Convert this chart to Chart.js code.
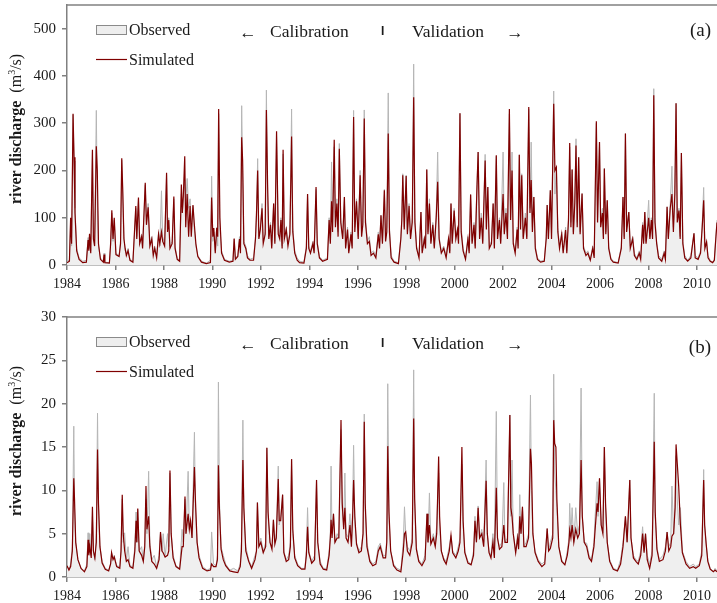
<!DOCTYPE html>
<html>
<head>
<meta charset="utf-8">
<script src="https://cdn.jsdelivr.net/npm/chart.js@4.4.1/dist/chart.umd.min.js"></script>
<style>
  body { margin: 0; background: #fff; }
  #wrap { position: relative; width: 717px; height: 603px; }
  canvas { position: absolute; left: 0; }
</style>
</head>
<body>
<div id="wrap">
  <canvas id="panelA" width="717" height="300" style="top:0"></canvas>
  <canvas id="panelB" width="717" height="303" style="top:300px"></canvas>
</div>
<script>
// decimal years, observed and simulated discharge (m3/s), station (a)
const yearsA = [
  1984.00, 1984.10, 1984.15, 1984.19, 1984.25, 1984.29, 1984.33, 1984.40, 1984.50, 1984.65, 1984.80, 1984.87, 1984.90, 1984.93, 1984.98,
  1985.05, 1985.09, 1985.14, 1985.21, 1985.25, 1985.30, 1985.38, 1985.50, 1985.53, 1985.56, 1985.75, 1985.80, 1985.85, 1985.90, 1985.95,
  1986.02, 1986.15, 1986.21, 1986.26, 1986.30, 1986.35, 1986.40, 1986.45, 1986.52, 1986.60, 1986.72, 1986.80, 1986.84, 1986.88, 1986.95,
  1987.00, 1987.08, 1987.12, 1987.23, 1987.28, 1987.35, 1987.42, 1987.50, 1987.56, 1987.62, 1987.70, 1987.78, 1987.83, 1987.90, 1987.95,
  1988.03, 1988.11, 1988.15, 1988.20, 1988.25, 1988.34, 1988.41, 1988.46, 1988.55, 1988.65, 1988.72, 1988.76, 1988.80, 1988.86, 1988.90, 1988.96,
  1989.02, 1989.08, 1989.13, 1989.20, 1989.25, 1989.32, 1989.40, 1989.55, 1989.75, 1989.92, 1989.97,
  1990.02, 1990.06, 1990.12, 1990.18, 1990.22, 1990.26, 1990.31, 1990.38, 1990.50, 1990.70, 1990.85, 1990.90, 1990.95,
  1991.05, 1991.12, 1991.16, 1991.21, 1991.25, 1991.30, 1991.38, 1991.45, 1991.55, 1991.70, 1991.78, 1991.82, 1991.87, 1991.92, 1991.98,
  1992.05, 1992.10, 1992.18, 1992.23, 1992.28, 1992.33, 1992.40, 1992.45, 1992.53, 1992.58, 1992.65, 1992.72, 1992.78, 1992.83, 1992.88, 1992.92, 1992.97,
  1993.05, 1993.12, 1993.20, 1993.27, 1993.32, 1993.40, 1993.50, 1993.60, 1993.78, 1993.88, 1993.93, 1993.98,
  1994.05, 1994.15, 1994.20, 1994.28, 1994.33, 1994.42, 1994.55, 1994.75, 1994.82, 1994.87, 1994.92, 1994.96,
  1995.03, 1995.08, 1995.14, 1995.19, 1995.24, 1995.30, 1995.38, 1995.45, 1995.50, 1995.58, 1995.63, 1995.72, 1995.77, 1995.83, 1995.88, 1995.95,
  1996.02, 1996.10, 1996.16, 1996.21, 1996.27, 1996.32, 1996.40, 1996.48, 1996.55, 1996.65, 1996.75, 1996.85, 1996.90, 1996.96,
  1997.02, 1997.10, 1997.15, 1997.20, 1997.26, 1997.31, 1997.38, 1997.50, 1997.68, 1997.78, 1997.82, 1997.86, 1997.92,
  1998.00, 1998.05, 1998.12, 1998.18, 1998.25, 1998.31, 1998.36, 1998.43, 1998.53, 1998.61, 1998.66, 1998.75, 1998.80, 1998.85, 1998.90, 1998.96,
  1999.02, 1999.10, 1999.16, 1999.24, 1999.30, 1999.36, 1999.45, 1999.55, 1999.65, 1999.75, 1999.80, 1999.85, 1999.90, 1999.98,
  2000.05, 2000.12, 2000.16, 2000.22, 2000.27, 2000.35, 2000.45, 2000.55, 2000.60, 2000.66, 2000.72, 2000.80, 2000.85, 2000.92, 2000.97,
  2001.03, 2001.10, 2001.16, 2001.26, 2001.31, 2001.37, 2001.43, 2001.52, 2001.59, 2001.64, 2001.72, 2001.77, 2001.85, 2001.90,
  2002.00, 2002.05, 2002.12, 2002.18, 2002.26, 2002.31, 2002.37, 2002.42, 2002.50, 2002.58, 2002.62, 2002.67, 2002.72, 2002.77, 2002.83, 2002.92, 2002.98,
  2003.06, 2003.11, 2003.16, 2003.21, 2003.27, 2003.33, 2003.42, 2003.55, 2003.70, 2003.78, 2003.82, 2003.87, 2003.95,
  2004.00, 2004.09, 2004.14, 2004.20, 2004.26, 2004.33, 2004.42, 2004.48, 2004.58, 2004.63, 2004.70, 2004.75, 2004.80, 2004.85, 2004.90, 2004.96,
  2005.01, 2005.06, 2005.12, 2005.18, 2005.26, 2005.32, 2005.42, 2005.50, 2005.60, 2005.70, 2005.76, 2005.85, 2005.90, 2005.98,
  2006.03, 2006.10, 2006.14, 2006.18, 2006.24, 2006.30, 2006.36, 2006.45, 2006.55, 2006.75, 2006.88, 2006.95,
  2007.00, 2007.05, 2007.10, 2007.19, 2007.25, 2007.35, 2007.42, 2007.52, 2007.62, 2007.68, 2007.76, 2007.80, 2007.85, 2007.90,
  2008.01, 2008.06, 2008.12, 2008.17, 2008.22, 2008.27, 2008.34, 2008.42, 2008.55, 2008.65, 2008.70, 2008.77, 2008.82, 2008.90, 2008.97,
  2009.03, 2009.09, 2009.14, 2009.19, 2009.26, 2009.31, 2009.36, 2009.42, 2009.50, 2009.62, 2009.75, 2009.88, 2009.93,
  2010.05, 2010.15, 2010.22, 2010.28, 2010.33, 2010.40, 2010.46, 2010.55, 2010.65, 2010.72, 2010.78, 2010.83
];
const observedA = [
  8, 10, 95, 40, 318, 220, 120, 35, 15, 8, 10, 58, 35, 62, 30,
  240, 60, 45, 327, 140, 40, 15, 8, 25, 6, 5, 40, 110, 50, 95,
  25, 20, 50, 222, 150, 60, 30, 25, 35, 12, 8, 80, 120, 60, 140,
  50, 65, 40, 170, 90, 130, 45, 60, 25, 40, 20, 70, 40, 157, 60,
  45, 190, 80, 100, 40, 50, 140, 40, 15, 10, 150, 110, 140, 180, 130, 183,
  120, 140, 90, 125, 80, 40, 20, 8, 4, 10, 188,
  50, 70, 30, 80, 40, 320, 80, 30, 12, 8, 10, 55, 15,
  20, 60, 30, 337, 200, 50, 40, 20, 12, 15, 60, 110, 225, 60, 80,
  130, 50, 70, 370, 150, 60, 90, 40, 130, 50, 272, 70, 60, 100, 40, 235, 60,
  80, 45, 70, 330, 80, 30, 15, 8, 6, 40, 150, 40,
  30, 50, 30, 160, 50, 18, 10, 15, 100, 50, 218, 80,
  250, 90, 140, 70, 257, 100, 60, 144, 40, 80, 30, 70, 40, 327, 80, 140,
  60, 200, 70, 90, 328, 100, 50, 60, 25, 30, 20, 70, 40, 105,
  50, 160, 60, 80, 364, 80, 20, 8, 5, 60, 100, 193, 80,
  190, 70, 130, 60, 100, 425, 100, 40, 20, 112, 30, 60, 40, 202, 70, 140,
  50, 90, 40, 110, 239, 60, 30, 40, 20, 60, 30, 130, 50, 120,
  60, 80, 50, 321, 80, 35, 15, 60, 30, 149, 50, 90, 40, 170, 239,
  60, 110, 50, 234, 80, 165, 40, 50, 130, 40, 230, 60, 100, 50,
  239, 70, 120, 60, 320, 100, 239, 50, 30, 80, 40, 233, 80, 193, 60, 110, 60,
  330, 120, 260, 80, 144, 40, 15, 8, 10, 60, 127, 60, 158,
  60, 368, 150, 207, 80, 40, 70, 30, 80, 30, 100, 250, 90, 202, 70, 140,
  267, 90, 228, 70, 151, 40, 25, 30, 12, 40, 20, 300, 100, 260,
  90, 120, 60, 204, 70, 137, 40, 15, 8, 5, 40, 144,
  60, 278, 80, 112, 40, 60, 25, 15, 30, 15, 90, 50, 112, 50,
  137, 60, 100, 60, 373, 100, 50, 20, 12, 30, 15, 123, 60, 130, 209,
  80, 160, 342, 100, 120, 60, 237, 50, 20, 10, 20, 67, 20,
  15, 30, 90, 164, 40, 49, 20, 10, 6, 12, 60, 95
];
const simulatedA = [
  5, 8, 100, 45, 320, 228, 110, 30, 12, 5, 6, 53, 30, 66, 25,
  244, 55, 40, 251, 200, 45, 12, 6, 22, 5, 4, 45, 116, 55, 100,
  22, 18, 45, 226, 160, 55, 35, 20, 30, 10, 6, 85, 125, 55, 143,
  45, 60, 35, 174, 85, 122, 40, 55, 20, 35, 15, 65, 45, 70, 50,
  40, 195, 70, 95, 35, 45, 145, 35, 12, 8, 170, 110, 145, 230, 80, 150,
  60, 125, 60, 127, 90, 45, 18, 6, 3, 5, 143,
  60, 78, 25, 78, 60, 330, 100, 25, 10, 6, 8, 56, 12,
  18, 55, 25, 270, 220, 45, 35, 15, 10, 10, 55, 105, 200, 55, 75,
  120, 45, 65, 328, 170, 55, 85, 35, 130, 45, 283, 65, 55, 95, 35, 244, 55,
  75, 40, 65, 272, 70, 25, 10, 5, 4, 35, 150, 35,
  25, 45, 25, 165, 45, 15, 8, 12, 95, 45, 135, 70,
  265, 80, 130, 60, 246, 90, 55, 144, 35, 75, 25, 65, 35, 313, 70, 135,
  55, 190, 60, 85, 310, 90, 45, 50, 20, 25, 15, 65, 35, 105,
  45, 158, 50, 70, 278, 70, 15, 6, 3, 55, 95, 190, 75,
  188, 65, 125, 55, 90, 355, 90, 35, 15, 112, 25, 55, 35, 202, 65, 130,
  45, 85, 35, 100, 176, 55, 25, 35, 15, 55, 25, 130, 45, 115,
  55, 75, 45, 321, 70, 30, 12, 55, 25, 149, 45, 85, 35, 160, 239,
  55, 100, 45, 221, 75, 165, 35, 45, 130, 35, 232, 55, 95, 45,
  150, 65, 110, 55, 330, 95, 200, 45, 25, 75, 35, 233, 75, 190, 55, 100, 55,
  334, 110, 180, 70, 144, 35, 12, 6, 8, 55, 127, 55, 158,
  55, 341, 200, 207, 70, 35, 65, 25, 74, 25, 95, 258, 80, 202, 65, 130,
  253, 80, 228, 65, 151, 35, 20, 25, 10, 35, 15, 304, 90, 260,
  80, 110, 55, 204, 65, 137, 35, 12, 6, 4, 35, 144,
  55, 278, 70, 112, 35, 55, 20, 12, 25, 12, 85, 45, 112, 45,
  100, 55, 95, 55, 359, 90, 45, 15, 8, 25, 12, 123, 55, 120, 150,
  70, 150, 342, 90, 115, 55, 237, 45, 15, 8, 15, 67, 15,
  12, 25, 80, 137, 35, 49, 15, 8, 5, 10, 55, 90
];

// station (b)
const yearsB = [
  1984.00, 1984.08, 1984.15, 1984.22, 1984.28, 1984.31, 1984.36, 1984.45, 1984.58, 1984.72, 1984.82, 1984.87, 1984.90, 1984.94,
  1985.00, 1985.05, 1985.09, 1985.15, 1985.21, 1985.26, 1985.30, 1985.36, 1985.45, 1985.58, 1985.72, 1985.80, 1985.84, 1985.90, 1985.95,
  1986.05, 1986.18, 1986.23, 1986.28, 1986.32, 1986.38, 1986.45, 1986.52, 1986.60, 1986.72, 1986.80, 1986.85, 1986.88, 1986.92, 1986.98,
  1987.08, 1987.15, 1987.21, 1987.26, 1987.30, 1987.37, 1987.42, 1987.50, 1987.60, 1987.70, 1987.80, 1987.86, 1987.92, 1987.97,
  1988.05, 1988.15, 1988.20, 1988.25, 1988.30, 1988.38, 1988.50, 1988.65, 1988.75, 1988.80, 1988.87, 1988.91,
  1989.00, 1989.05, 1989.10, 1989.16, 1989.26, 1989.30, 1989.37, 1989.45, 1989.60, 1989.78, 1989.92, 1989.97,
  1990.05, 1990.15, 1990.21, 1990.25, 1990.29, 1990.36, 1990.45, 1990.55, 1990.72, 1990.88,
  1991.05, 1991.15, 1991.20, 1991.26, 1991.30, 1991.38, 1991.50, 1991.62, 1991.76, 1991.82, 1991.86, 1991.92,
  1992.00, 1992.10, 1992.20, 1992.25, 1992.30, 1992.38, 1992.46, 1992.52, 1992.58, 1992.64, 1992.72, 1992.76, 1992.82, 1992.90, 1992.95,
  1993.05, 1993.15, 1993.22, 1993.27, 1993.32, 1993.40, 1993.52, 1993.68, 1993.82, 1993.88, 1993.93, 1993.98,
  1994.10, 1994.22, 1994.30, 1994.35, 1994.45, 1994.58, 1994.72, 1994.82, 1994.87, 1994.90, 1994.94,
  1995.00, 1995.06, 1995.15, 1995.22, 1995.31, 1995.36, 1995.42, 1995.47, 1995.52, 1995.60, 1995.68, 1995.74, 1995.79, 1995.83, 1995.88, 1995.95,
  1996.05, 1996.15, 1996.22, 1996.27, 1996.31, 1996.38, 1996.50, 1996.62, 1996.75, 1996.85, 1996.93,
  1997.05, 1997.15, 1997.20, 1997.24, 1997.29, 1997.36, 1997.48, 1997.62, 1997.78, 1997.88, 1997.93, 1997.98,
  1998.05, 1998.15, 1998.25, 1998.31, 1998.35, 1998.42, 1998.52, 1998.65, 1998.78, 1998.86, 1998.90, 1998.96,
  1999.02, 1999.12, 1999.20, 1999.26, 1999.34, 1999.38, 1999.45, 1999.55, 1999.65, 1999.78, 1999.85, 1999.92,
  2000.05, 2000.15, 2000.22, 2000.30, 2000.35, 2000.42, 2000.55, 2000.68, 2000.78, 2000.84, 2000.90, 2000.97,
  2001.03, 2001.12, 2001.20, 2001.30, 2001.35, 2001.42, 2001.50, 2001.58, 2001.64, 2001.72, 2001.77, 2001.85, 2001.95,
  2002.03, 2002.08, 2002.18, 2002.28, 2002.32, 2002.37, 2002.42, 2002.52, 2002.60, 2002.64, 2002.69, 2002.74, 2002.80, 2002.86, 2002.95,
  2003.05, 2003.13, 2003.17, 2003.23, 2003.32, 2003.45, 2003.60, 2003.72, 2003.82, 2003.88, 2003.95,
  2004.05, 2004.09, 2004.13, 2004.18, 2004.22, 2004.30, 2004.42, 2004.55, 2004.65, 2004.72, 2004.75, 2004.80, 2004.85, 2004.92,
  2005.00, 2005.08, 2005.15, 2005.22, 2005.27, 2005.35, 2005.45, 2005.55, 2005.65, 2005.75, 2005.80, 2005.88, 2005.92, 2005.98,
  2006.05, 2006.12, 2006.18, 2006.23, 2006.30, 2006.40, 2006.55, 2006.72, 2006.85, 2006.95,
  2007.05, 2007.12, 2007.23, 2007.28, 2007.38, 2007.48, 2007.58, 2007.68, 2007.76, 2007.82, 2007.88, 2007.95,
  2008.05, 2008.15, 2008.24, 2008.28, 2008.35, 2008.45, 2008.60, 2008.70, 2008.77, 2008.84, 2008.92, 2008.97,
  2009.04, 2009.10, 2009.14, 2009.19, 2009.25, 2009.32, 2009.40, 2009.55, 2009.70, 2009.85, 2009.95,
  2010.10, 2010.20, 2010.28, 2010.32, 2010.38, 2010.45, 2010.55, 2010.68, 2010.75, 2010.83
];
const observedB = [
  1.3, 0.9, 1.5, 3.5, 17.4, 8.0, 4.0, 2.0, 1.0, 0.7, 1.5, 5.1, 2.8, 5.0,
  2.5, 7.0, 3.0, 2.0, 5.0, 18.9, 8.0, 3.5, 1.8, 1.0, 0.8, 1.5, 2.8, 2.2, 2.5,
  1.3, 1.2, 3.0, 9.0, 4.0, 5.1, 2.0, 3.5, 1.3, 1.2, 3.5, 7.5, 4.0, 7.8, 3.0,
  3.5, 2.0, 4.0, 9.0, 5.0, 12.2, 4.0, 2.0, 2.5, 1.2, 2.5, 5.2, 3.0, 5.0,
  2.5, 5.0, 3.5, 12.0, 5.0, 2.5, 1.3, 1.0, 5.5, 4.0, 9.0, 5.0,
  12.2, 5.5, 6.6, 4.5, 16.7, 8.0, 4.0, 2.5, 1.2, 0.8, 1.0, 5.2,
  1.5, 1.3, 2.5, 22.5, 9.0, 3.5, 2.5, 1.5, 0.8, 1.0,
  0.7, 1.5, 4.0, 18.1, 8.0, 3.5, 2.0, 1.2, 2.5, 3.0, 8.6, 3.5,
  4.5, 3.0, 4.0, 14.9, 7.0, 4.0, 3.5, 6.6, 4.0, 5.0, 12.8, 6.0, 7.0, 9.5, 3.0,
  2.0, 2.5, 4.0, 13.6, 5.0, 2.5, 1.5, 1.0, 1.0, 3.0, 8.0, 3.0,
  1.8, 2.5, 11.2, 4.0, 1.8, 1.0, 1.0, 3.0, 5.0, 12.8, 5.0,
  7.3, 4.0, 5.0, 4.5, 17.0, 8.0, 6.0, 12.0, 5.0, 4.6, 7.3, 4.0, 8.0, 15.2, 6.5, 4.0,
  3.0, 3.5, 5.0, 18.8, 8.0, 4.0, 2.0, 1.5, 1.8, 3.5, 3.9,
  2.5, 2.5, 4.5, 22.3, 7.0, 3.0, 1.5, 1.0, 0.8, 4.0, 8.1, 5.0,
  3.5, 3.0, 4.5, 23.9, 9.0, 3.5, 2.0, 1.5, 2.5, 7.3, 4.0, 9.7,
  4.0, 5.0, 4.0, 6.0, 12.0, 6.0, 3.0, 2.2, 1.8, 3.5, 4.8, 3.0,
  2.5, 3.5, 4.5, 13.0, 6.0, 3.0, 1.8, 1.5, 3.0, 7.0, 4.0, 8.2,
  4.5, 5.5, 4.0, 13.5, 5.0, 3.0, 2.5, 5.0, 2.5, 19.1, 4.5, 3.5, 4.0,
  10.9, 4.0, 4.5, 18.7, 7.0, 13.5, 5.0, 3.0, 5.0, 3.5, 9.5, 5.0, 8.1, 3.5, 4.0,
  5.0, 21.0, 10.0, 5.0, 3.0, 2.0, 1.5, 1.8, 5.6, 3.0, 4.0,
  5.0, 23.4, 12.0, 10.0, 8.0, 3.5, 2.0, 1.4, 3.0, 4.5, 8.5, 5.0, 8.0, 4.0,
  8.0, 5.0, 6.0, 21.8, 7.0, 4.0, 3.9, 2.5, 2.0, 4.0, 7.0, 11.0, 7.0, 11.4,
  6.0, 5.0, 15.0, 8.0, 4.0, 2.0, 1.0, 0.8, 2.0, 4.0,
  7.0, 4.0, 11.2, 4.5, 2.5, 2.0, 1.8, 3.0, 5.8, 3.0, 5.0, 2.5,
  1.5, 3.0, 21.2, 7.0, 3.5, 2.0, 2.5, 3.5, 5.2, 3.5, 4.0, 10.5,
  5.0, 8.0, 14.0, 9.0, 6.0, 8.0, 3.0, 1.8, 1.2, 1.5, 1.2,
  1.5, 3.0, 12.4, 6.0, 3.9, 2.0, 1.0, 0.6, 1.0, 0.7
];
const simulatedB = [
  1.3, 0.8, 1.2, 3.0, 11.4, 9.0, 4.0, 2.0, 1.0, 0.6, 1.2, 4.3, 2.5, 3.5,
  2.2, 8.1, 3.0, 2.2, 4.0, 14.7, 8.5, 3.5, 1.6, 0.9, 0.7, 1.5, 2.8, 2.0, 2.3,
  1.2, 1.0, 3.0, 9.5, 5.0, 3.0, 1.8, 2.0, 1.2, 1.0, 3.0, 6.5, 4.0, 7.9, 3.0,
  2.5, 1.8, 3.5, 10.5, 5.5, 7.0, 3.5, 1.8, 1.5, 1.0, 2.0, 5.2, 3.0, 2.8,
  2.3, 2.5, 3.0, 12.3, 5.0, 2.2, 1.2, 0.9, 3.5, 3.5, 9.3, 5.0,
  7.3, 5.5, 6.5, 4.5, 12.7, 9.0, 4.0, 2.2, 1.0, 0.7, 0.8, 1.5,
  1.2, 1.2, 2.0, 12.9, 8.0, 3.2, 2.0, 1.3, 0.7, 0.6,
  0.5, 1.2, 3.0, 13.5, 8.0, 3.0, 1.8, 1.0, 2.0, 3.0, 8.6, 3.5,
  4.0, 2.8, 3.5, 14.9, 7.5, 4.0, 3.2, 6.6, 3.8, 4.5, 11.3, 6.5, 6.5, 9.5, 2.8,
  1.8, 2.0, 3.5, 13.6, 5.5, 2.2, 1.3, 0.9, 0.9, 2.5, 5.8, 2.8,
  1.6, 2.0, 11.2, 4.0, 1.5, 0.9, 0.8, 2.5, 4.5, 6.6, 4.5,
  7.3, 4.0, 4.5, 4.5, 18.1, 8.5, 5.5, 8.0, 4.5, 4.0, 6.0, 3.5, 7.0, 11.2, 7.0, 3.8,
  2.8, 3.0, 5.0, 17.9, 8.5, 3.5, 1.8, 1.3, 1.5, 3.0, 3.5,
  2.2, 2.2, 4.0, 15.1, 7.5, 3.0, 1.3, 0.8, 0.6, 3.0, 5.0, 5.2,
  3.0, 2.5, 4.0, 18.3, 9.0, 3.2, 1.8, 1.3, 2.0, 7.3, 4.0, 6.0,
  3.8, 4.5, 3.5, 5.0, 13.9, 7.0, 3.0, 2.0, 1.5, 3.0, 4.8, 2.8,
  2.2, 3.0, 4.0, 15.0, 6.5, 2.8, 1.6, 1.4, 2.5, 6.5, 4.0, 8.0,
  4.5, 5.0, 3.5, 11.1, 5.0, 2.8, 2.2, 4.0, 2.2, 10.3, 4.5, 3.2, 3.5,
  6.0, 4.0, 4.0, 18.7, 8.0, 7.0, 5.0, 2.8, 4.5, 3.2, 7.0, 5.0, 8.1, 3.5, 3.5,
  4.5, 14.8, 13.1, 5.0, 2.8, 1.8, 1.2, 1.5, 5.6, 3.0, 3.3,
  4.5, 18.1, 15.4, 15.0, 9.0, 3.5, 1.8, 1.4, 2.5, 4.0, 5.4, 4.5, 6.0, 4.0,
  5.5, 4.5, 5.0, 13.5, 7.0, 4.0, 3.5, 2.2, 1.8, 3.5, 5.5, 8.5, 7.5, 11.4,
  6.0, 5.0, 15.0, 8.5, 4.0, 1.8, 0.9, 0.7, 1.5, 3.5,
  7.0, 4.0, 11.2, 4.5, 2.2, 1.8, 1.5, 2.5, 5.0, 2.8, 5.0, 2.0,
  1.0, 2.5, 15.6, 7.5, 3.2, 1.8, 2.0, 3.0, 5.2, 3.0, 3.5, 4.7,
  5.0, 8.0, 15.3, 13.1, 10.4, 6.0, 2.8, 1.5, 1.0, 1.2, 1.0,
  1.3, 2.5, 11.2, 6.0, 3.9, 1.8, 0.9, 0.6, 0.8, 0.6
];

const firstYear = 1984;
const lastYear = 2010.83;
const serif = "'Liberation Serif', 'Times New Roman', serif";
const axisGrey = '#808080';
const simColor = '#800000';

// frame top line, in-plot legend, period note, panel letter and y title
const panelText = {
  id: 'panelText',
  afterDraw(chart, args, opts) {
    const ctx = chart.ctx;
    const a = chart.chartArea;
    const t = a.top;
    const l = a.left;
    ctx.save();

    ctx.strokeStyle = axisGrey;
    ctx.lineWidth = 1.5;
    ctx.beginPath();
    ctx.moveTo(l, t);
    ctx.lineTo(a.right, t);
    ctx.stroke();

    // legend
    ctx.fillStyle = '#eeeeee';
    ctx.fillRect(l + 29, t + 20, 31, 9);
    ctx.strokeStyle = '#8a8a8a';
    ctx.lineWidth = 1;
    ctx.strokeRect(l + 29.5, t + 20.5, 30, 9);
    ctx.strokeStyle = simColor;
    ctx.lineWidth = 1.2;
    ctx.beginPath();
    ctx.moveTo(l + 29, t + 54.5);
    ctx.lineTo(l + 60, t + 54.5);
    ctx.stroke();

    ctx.fillStyle = '#1a1a1a';
    ctx.textBaseline = 'middle';
    ctx.textAlign = 'left';
    ctx.font = `16px ${serif}`;
    ctx.fillText('Observed', l + 62, t + 26);
    ctx.fillText('Simulated', l + 62, t + 56);

    // calibration / validation note
    ctx.font = `17.5px ${serif}`;
    ctx.fillText('\u2190', 239, t + 28);
    ctx.fillText('Calibration', 270, t + 27);
    ctx.fillText('Validation', 412, t + 27);
    ctx.fillText('\u2192', 506, t + 28);
    ctx.font = "bold 12px 'Liberation Sans', Arial, sans-serif";
    ctx.fillText('I', 381, t + 27);

    ctx.textAlign = 'right';
    ctx.font = `19px ${serif}`;
    ctx.fillText(opts.letter, 711, t + opts.letterY);

    // y title: bold name, plain unit with superscript
    const cy = (a.top + a.bottom) / 2 - 6;
    ctx.translate(17, cy);
    ctx.rotate(-Math.PI / 2);
    ctx.textAlign = 'left';
    const bold = `bold 16px ${serif}`;
    const plain = `16px ${serif}`;
    const small = `10px ${serif}`;
    ctx.font = bold;
    const w1 = ctx.measureText('river discharge  ').width;
    ctx.font = plain;
    const w2 = ctx.measureText('(m').width;
    const w4 = ctx.measureText('/s)').width;
    ctx.font = small;
    const w3 = ctx.measureText('3').width;
    let x = -(w1 + w2 + w3 + w4) / 2;
    ctx.font = bold;
    ctx.fillText('river discharge', x, 0);
    x += w1;
    ctx.font = plain;
    ctx.fillText('(m', x, 0);
    x += w2;
    ctx.font = small;
    ctx.fillText('3', x, -5);
    x += w3;
    ctx.font = plain;
    ctx.fillText('/s)', x, 0);

    ctx.restore();
  }
};

function makePanel(id, years, observed, simulated, yMax, yStep, topPad, xAxisHeight, letter, letterY) {
  return new Chart(document.getElementById(id), {
    type: 'line',
    data: {
      datasets: [{
        label: 'Simulated',
        data: years.map((d, i) => ({x: d, y: simulated[i]})),
        borderColor: simColor,
        borderWidth: 1.2,
        pointRadius: 0,
        fill: false,
        order: 1
      }, {
        label: 'Observed',
        data: years.map((d, i) => ({x: d, y: observed[i]})),
        borderColor: '#b5b5b5',
        backgroundColor: '#efefef',
        borderWidth: 1,
        pointRadius: 0,
        fill: 'origin',
        order: 2
      }]
    },
    options: {
      responsive: false,
      animation: false,
      layout: {padding: {top: topPad, left: 0, right: 0, bottom: 0}},
      plugins: {
        legend: {display: false},
        tooltip: {enabled: false},
        panelText: {letter: letter, letterY: letterY}
      },
      scales: {
        x: {
          type: 'linear',
          min: firstYear,
          max: lastYear,
          ticks: {
            stepSize: 2,
            includeBounds: false,
            maxRotation: 0,
            autoSkip: false,
            padding: 6,
            color: '#1a1a1a',
            font: {family: serif, size: 14},
            callback: v => String(v)
          },
          grid: {drawOnChartArea: false, tickLength: 5, color: axisGrey, lineWidth: 1.5},
          border: {color: axisGrey, width: 1.5},
          afterFit: s => { s.height = xAxisHeight; s.paddingLeft = 0; s.paddingRight = 0; }
        },
        y: {
          min: 0,
          max: yMax,
          ticks: {
            stepSize: yStep,
            includeBounds: false,
            padding: 6,
            color: '#1a1a1a',
            font: {family: serif, size: 15}
          },
          grid: {drawOnChartArea: false, tickLength: 5, color: axisGrey, lineWidth: 1.5},
          border: {color: axisGrey, width: 1.5},
          afterFit: s => { s.width = 67; s.paddingTop = 0; s.paddingBottom = 0; }
        }
      }
    },
    plugins: [panelText]
  });
}

makePanel('panelA', yearsA, observedA, simulatedA, 550, 100, 5, 35, '(a)', 26);
makePanel('panelB', yearsB, observedB, simulatedB, 30, 5, 17, 26, '(b)', 31);
</script>
</body>
</html>
